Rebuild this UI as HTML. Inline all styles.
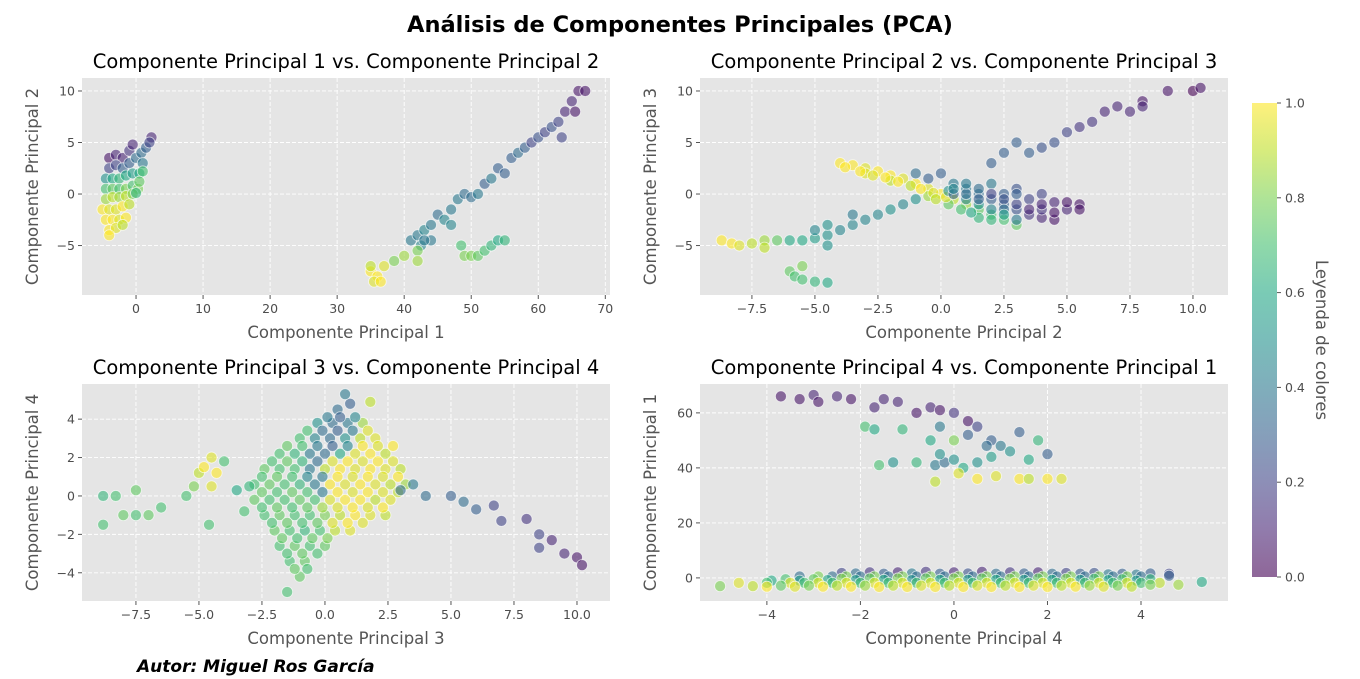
<!DOCTYPE html>
<html><head><meta charset="utf-8">
<style>
body{margin:0;background:#fff;}
svg{display:block;font-family:"DejaVu Sans","Liberation Sans",sans-serif;}
</style></head>
<body>
<svg id="fig" width="1360" height="679" viewBox="0 0 1360 679">
<text x="680" y="32" text-anchor="middle" font-size="22.5" font-weight="bold" fill="#000">Análisis de Componentes Principales (PCA)</text>
<text x="137" y="672" font-size="17" font-weight="bold" font-style="italic" fill="#000">Autor: Miguel Ros García</text>
</svg>
<script>
// ---- data: [x, y, colorValue] ----
const p1Points=[
[-4,3.5,0.05],[-3,3.8,0.1],[-2,3.5,0.1],[-1,4.2,0.15],[-0.5,4.8,0.1],[-4,2.5,0.2],[-3,2.8,0.2],[-2,2.5,0.3],[-1,3,0.3],[0,3.5,0.35],[0.8,4,0.35],[1.5,4.5,0.3],[2.3,5.5,0.1],[2,5,0.2],[1,3,0.4],
[-4.5,1.5,0.5],[-3.5,1.5,0.6],[-2.5,1.5,0.65],[-1.5,1.8,0.6],[-0.5,2,0.55],[0.5,2,0.6],[1,2.2,0.7],[-4.5,0.5,0.7],[-3.5,0.5,0.75],[-2.5,0.5,0.7],[-1.5,0.5,0.8],[-0.5,0.8,0.7],[0.3,0.5,0.8],[0.5,1.2,0.75],[-4.5,-0.5,0.85],[-3.5,-0.3,0.9],[-2.5,-0.3,0.85],[-1.5,-0.2,0.9],[-0.5,0,0.8],[0,0.1,0.65],
[-5,-1.5,1],[-4,-1.5,0.95],[-3,-1.5,0.95],[-2,-1.2,1],[-1,-1,0.9],[-4.5,-2.5,1],[-3.5,-2.5,1],[-2.5,-2.5,0.95],[-1.5,-2.3,1],[-4,-3.5,1],[-3,-3.3,0.95],[-4,-4,1],[-2,-3,0.9],
[35,-7.5,1],[36,-8,1],[35.5,-8.5,0.95],[37,-7,0.95],[35,-7,0.9],[36.5,-8.5,1],[38.5,-6.5,0.8],[40,-6,0.85],[41,-4.5,0.4],[42,-4,0.4],[42.5,-5,0.45],[43,-3.5,0.45],[42,-5.5,0.8],[44,-3,0.4],[45,-2,0.35],[46,-2.5,0.45],[47,-1.5,0.4],[48,-0.5,0.4],[49,0,0.35],[50,-0.3,0.35],[51,0,0.4],[52,1,0.3],[53,1.5,0.4],[54,2.5,0.3],[55,2,0.3],[56,3.5,0.3],[57,4,0.35],[58,4.5,0.3],[59,5,0.2],[60,5.5,0.25],[61,6,0.2],[62,6.5,0.25],[63,7,0.2],[64,8,0.1],[65,9,0.1],[65.5,8,0.05],[66,10,0.05],[67,10,0.05],[63.5,5.5,0.2],
[48.5,-5,0.7],[49,-6,0.8],[50,-6,0.8],[51,-6,0.75],[52,-5.5,0.7],[53,-5,0.65],[54,-4.5,0.6],[55,-4.5,0.65],[44,-4.5,0.4],[42,-6.5,0.85],[47,-3,0.45],[43,-4.5,0.4]];
const p2Points=[
[-4,3,1],[-3.5,2.8,1],[-3,2.5,0.95],[-2.5,2.2,1],[-2,1.8,1],[-1.5,1.5,0.95],[-1,1,1],[-0.5,0.5,0.95],[0,0,1],[-2,1.3,0.9],[-1.2,0.8,0.9],[-3,2,0.95],[0.5,-0.5,0.9],[1,-1,0.85],[1.5,-1.5,0.75],[2,-2,0.7],[2.5,-2.5,0.7],[3,-3,0.75],[0.8,-1.5,0.7],[1.5,-2.3,0.65],[0.3,-1,0.75],[-0.5,-0.2,0.85],
[-3.8,2.6,1],[-3.2,2.2,1],[-2.7,1.8,0.95],[-2.2,1.6,1],[-1.7,1.2,1],[-0.8,0.5,1],[-0.3,0.1,0.95],[-0.2,-0.5,0.9],[0.2,-0.3,0.95],
[-0.5,1.5,0.3],[0,2,0.3],[-1,2,0.35],[0.5,1,0.4],[1,0.5,0.4],[1.5,0,0.35],[2,-0.5,0.3],[2.5,-1,0.3],[3,-1.5,0.25],[3.5,-2,0.15],[4,-2.3,0.1],[4.5,-2.5,0.05],[5,-1.5,0.1],[5.5,-1,0.05],[4.5,-0.8,0.1],[3.5,-0.5,0.2],[2.5,0,0.3],[1.5,0.5,0.35],[3,0.5,0.25],[4,0,0.2],[2,1,0.4],[1,-0.5,0.45],[2,-1.5,0.45],[3,-2.5,0.4],[4,-1.5,0.15],[5,-0.8,0.05],[1.5,-1,0.5],[0.3,0.3,0.5],
[0.5,0,0.3],[1,0,0.35],[1.5,-0.5,0.3],[2,0,0.2],[2.5,-0.5,0.25],[3,-1,0.2],[3.5,-1.5,0.1],[4,-1,0.1],[3,0,0.3],[2.5,-1.5,0.35],[4.5,-1.8,0.05],[5.5,-1.5,0.05],[1,1,0.4],[0.5,0.5,0.45],[1.2,-1.8,0.6],[2,-2.5,0.65],[2.5,-2,0.55],
[2,3,0.3],[2.5,4,0.3],[3,5,0.3],[4,4.5,0.25],[4.5,5,0.25],[5,6,0.2],[5.5,6.5,0.15],[6,7,0.15],[6.5,8,0.1],[7.5,8,0.1],[8,9,0.05],[8,8.5,0.1],[9,10,0.05],[10,10,0],[10.3,10.3,0.05],[7,8.5,0.1],[3.5,4,0.3],
[-8.7,-4.5,1],[-8.3,-4.8,1],[-8,-5,0.95],[-7.5,-4.8,0.9],[-7,-4.5,0.85],[-7,-5.2,0.9],[-6.5,-4.5,0.75],[-6,-7.5,0.75],[-5.8,-8,0.7],[-5.5,-8.3,0.7],[-5,-8.5,0.65],[-4.5,-8.6,0.6],[-6,-4.5,0.6],[-5.5,-4.5,0.6],[-5,-4.3,0.55],[-4.5,-4,0.5],[-5,-3.5,0.45],[-4,-3.5,0.45],[-3.5,-3,0.45],[-3,-2.5,0.45],[-2.5,-2,0.45],[-2,-1.5,0.5],[-1.5,-1,0.45],[-1,-0.5,0.5],[-4.5,-5,0.5],[-5.5,-7,0.8],[-4.5,-3,0.5],[-3.5,-2,0.4]];
const p3Points=[
[0.5,4.5,0.35],[1,4.8,0.3],[0.8,5.3,0.4],[-0.3,3.8,0.5],[0.3,3.8,0.35],[0.9,3.8,0.4],[1.5,3.8,0.85],[1.8,4.9,0.9],
[-1,3,0.7],[-0.4,3,0.45],[0.2,3,0.35],[0.8,3,0.5],[1.4,3,0.9],[2,3,0.95],
[-1.8,2.2,0.7],[-1.2,2.2,0.65],[-0.6,2.2,0.4],[0,2.2,0.35],[0.6,2.2,0.6],[1.2,2.2,0.95],[1.8,2.2,1],[2.4,2.2,0.9],
[-2.4,1.4,0.75],[-1.8,1.4,0.7],[-1.2,1.4,0.7],[-0.6,1.4,0.4],[0,1.4,0.9],[0.6,1.4,1],[1.2,1.4,0.95],[1.8,1.4,1],[2.4,1.4,0.95],[3,1.4,0.9],
[-2.8,0.6,0.7],[-2.2,0.6,0.75],[-1.6,0.6,0.7],[-1,0.6,0.65],[-0.4,0.6,0.4],[0.2,0.6,1],[0.8,0.6,0.95],[1.4,0.6,1],[2,0.6,0.95],[2.6,0.6,0.9],[3.2,0.6,0.85],
[-2.8,-0.2,0.75],[-2.2,-0.2,0.7],[-1.6,-0.2,0.7],[-1,-0.2,0.75],[-0.4,-0.2,0.7],[0.2,-0.2,0.95],[0.8,-0.2,1],[1.4,-0.2,1],[2,-0.2,0.9],[2.6,-0.2,0.95],
[-2.4,-1,0.7],[-1.8,-1,0.75],[-1.2,-1,0.7],[-0.6,-1,0.7],[0,-1,0.8],[0.6,-1,0.9],[1.2,-1,1],[1.8,-1,0.95],[2.4,-1,0.9],
[-2,-1.8,0.75],[-1.4,-1.8,0.7],[-0.8,-1.8,0.65],[-0.2,-1.8,0.7],[0.4,-1.8,0.9],[1,-1.8,0.95],
[-1.8,-2.6,0.7],[-1.2,-2.6,0.75],[-0.6,-2.6,0.7],[0,-2.6,0.75],[-1.4,-3.4,0.7],[-0.8,-3.4,0.75],[-1,-4.2,0.75],[-1.5,-5,0.7],
[0.1,4.1,0.4],[0.6,4.1,0.3],[1.2,4.1,0.45],
[-0.7,3.4,0.7],[-0.1,3.4,0.35],[0.5,3.4,0.3],[1.1,3.4,0.4],[1.7,3.4,0.95],
[-1.5,2.6,0.75],[-0.9,2.6,0.7],[-0.3,2.6,0.4],[0.3,2.6,0.3],[0.9,2.6,0.45],[1.5,2.6,1],[2.1,2.6,0.95],[2.7,2.6,1],
[-2.1,1.8,0.7],[-1.5,1.8,0.75],[-0.9,1.8,0.65],[-0.3,1.8,0.35],[0.3,1.8,0.95],[0.9,1.8,1],[1.5,1.8,0.95],[2.1,1.8,1],[2.7,1.8,0.95],
[-2.5,1,0.7],[-1.9,1,0.75],[-1.3,1,0.7],[-0.7,1,0.45],[-0.1,1,0.4],[0.5,1,1],[1.1,1,0.95],[1.7,1,1],[2.3,1,0.95],[2.9,1,1],
[-2.5,0.2,0.75],[-1.9,0.2,0.7],[-1.3,0.2,0.75],[-0.7,0.2,0.7],[-0.1,0.2,0.4],[0.5,0.2,1],[1.1,0.2,0.95],[1.7,0.2,1],[2.3,0.2,0.95],[2.9,0.2,0.9],
[-2.5,-0.6,0.7],[-1.9,-0.6,0.75],[-1.3,-0.6,0.7],[-0.7,-0.6,0.75],[-0.1,-0.6,0.85],[0.5,-0.6,0.95],[1.1,-0.6,1],[1.7,-0.6,0.95],[2.3,-0.6,1],
[-2.1,-1.4,0.7],[-1.5,-1.4,0.75],[-0.9,-1.4,0.7],[-0.3,-1.4,0.75],[0.3,-1.4,0.95],[0.9,-1.4,1],[1.5,-1.4,0.95],
[-1.7,-2.2,0.75],[-1.1,-2.2,0.7],[-0.5,-2.2,0.75],[0.1,-2.2,0.8],
[-1.5,-3,0.7],[-0.9,-3,0.75],[-0.3,-3,0.7],[-1.2,-3.8,0.75],[-0.7,-3.8,0.7],
[3,0.3,0.35],[4,0,0.35],[5,0,0.3],[5.5,-0.3,0.35],[6,-0.7,0.3],[6.7,-0.5,0.2],[7,-1.3,0.2],[8,-1.2,0.15],[8.5,-2,0.2],[8.5,-2.7,0.2],[9,-2.3,0.1],[9.5,-3,0.1],[10,-3.2,0.05],[10.2,-3.6,0.05],[3.5,0.6,0.4],
[-8.8,-1.5,0.7],[-8.8,0,0.65],[-8.3,0,0.7],[-7.5,0.3,0.75],[-7.5,-1,0.7],[-7,-1,0.75],[-6.5,-0.6,0.7],[-8,-1,0.75],
[-5.5,0,0.7],[-5,1.2,0.9],[-4.8,1.5,1],[-4.5,0.5,0.95],[-4.5,2,0.95],[-4.3,1.2,1],[-5.2,0.5,0.8],[-4,1.8,0.7],[-3.5,0.3,0.6],[-3,0.5,0.65],[-3.2,-0.8,0.7],[-4.6,-1.5,0.7]];
const p4Points=[
[-2.4,1.8,0.2],[-2.1,1.6,0.35],[-1.8,2,0.15],[-1.5,1.5,0.3],[-1.2,2,0.1],[-0.9,1.6,0.4],[-0.6,2.2,0.15],[-0.3,1.5,0.3],[0,2,0.1],[0.3,1.6,0.25],[0.6,2.2,0.1],[0.9,1.5,0.35],[1.2,2,0.15],[1.5,1.6,0.3],[1.8,2,0.1],[2.1,1.5,0.35],[2.4,1.8,0.2],[2.7,1.5,0.3],[3,1.8,0.25],[3.3,1.3,0.4],[3.6,1.5,0.3],[3.9,1.2,0.4],[4.2,1.6,0.3],[4.6,1.5,0.2],
[-3.3,0.5,0.35],[-2.9,0.5,0.8],[-2.6,0.5,0.35],[-2.3,0.5,0.8],[-2,0.5,0.35],[-1.7,0.5,0.8],[-1.4,0.5,0.35],[-1.1,0.5,0.8],[-0.8,0.5,0.35],[-0.5,0.5,0.8],[-0.2,0.5,0.35],[0.1,0.5,0.8],[0.4,0.5,0.35],[0.7,0.5,0.8],[1,0.5,0.35],[1.3,0.5,0.8],[1.6,0.5,0.35],[1.9,0.5,0.8],[2.2,0.5,0.35],[2.5,0.5,0.8],[2.8,0.5,0.35],[3.1,0.5,0.8],[3.4,0.5,0.35],[3.7,0.5,0.8],[4,0.5,0.35],
[-3.9,-1,0.6],[-3.6,-0.5,0.7],[-3.3,-1,0.55],[-3,-0.5,0.75],[-2.7,-0.8,0.6],[-2.4,-0.3,0.8],[-2.1,-0.8,0.55],[-1.8,-0.2,0.75],[-1.5,-0.7,0.6],[-1.2,-0.2,0.8],[-0.9,-0.8,0.5],[-0.6,-0.2,0.75],[-0.3,-0.7,0.6],[0,-0.2,0.8],[0.3,-0.7,0.55],[0.6,-0.2,0.75],[0.9,-0.7,0.6],[1.2,-0.3,0.8],[1.5,-0.7,0.55],[1.8,-0.2,0.75],[2.1,-0.7,0.6],[2.4,-0.3,0.8],[2.7,-0.7,0.55],[3,-0.3,0.7],[3.3,-0.8,0.6],[3.6,-0.5,0.7],[3.9,-1,0.55],[4.2,-0.5,0.65],
[-4.6,-1.8,0.95],[-4,-1.8,0.7],[-3.5,-1.8,0.95],[-3.2,-1.8,0.7],[-2.9,-1.8,0.95],[-2.6,-1.8,0.7],[-2.3,-1.8,0.95],[-2,-1.8,0.7],[-1.7,-1.8,0.95],[-1.4,-1.8,0.7],[-1.1,-1.8,0.95],[-0.8,-1.8,0.7],[-0.5,-1.8,0.95],[-0.2,-1.8,0.7],[0.1,-1.8,0.95],[0.4,-1.8,0.7],[0.7,-1.8,0.95],[1,-1.8,0.7],[1.3,-1.8,0.95],[1.6,-1.8,0.7],[1.9,-1.8,0.95],[2.2,-1.8,0.7],[2.5,-1.8,0.95],[2.8,-1.8,0.7],[3.1,-1.8,0.95],[3.4,-1.8,0.7],[3.7,-1.8,0.95],[4,-1.8,0.7],[4.4,-1.8,0.9],
[-5,-3,0.8],[-4.3,-3,0.9],[-4,-3.2,1],[-3.7,-2.8,0.75],[-3.4,-3.2,0.95],[-3.1,-2.8,0.8],[-2.8,-3.2,1],[-2.5,-2.8,0.9],[-2.2,-3.2,1],[-1.9,-2.8,0.85],[-1.6,-3.3,1],[-1.3,-2.8,0.9],[-1,-3.3,1],[-0.7,-2.8,0.95],[-0.4,-3.3,1],[-0.1,-2.8,0.9],[0.2,-3.3,1],[0.5,-2.8,0.95],[0.8,-3.3,1],[1.1,-2.8,0.9],[1.4,-3.3,1],[1.7,-2.8,0.95],[2,-3.3,1],[2.3,-2.8,0.9],[2.6,-3.2,1],[2.9,-2.8,0.85],[3.2,-3.2,0.95],[3.5,-2.8,0.8],[3.8,-3.2,0.9],[4.2,-2.5,0.8],[4.8,-2.5,0.85],[5.3,-1.5,0.6],[4.6,0.8,0.3],
[-3.7,66,0.05],[-3.3,65,0.05],[-3,66.5,0.1],[-2.9,64,0.05],[-2.5,66,0.1],[-2.2,65,0.05],[-1.5,65,0.1],[-1.2,64,0.1],[-0.8,60,0.05],[-0.5,62,0.1],[-0.3,61,0.05],[0.3,57,0.05],[0,60,0.15],[-1.7,62,0.1],
[-1.9,55,0.7],[-1.7,54,0.6],[-1.1,54,0.65],[-1.6,41,0.7],[-1.3,42,0.5],[-0.8,42,0.65],[-0.4,41,0.4],[-0.2,42,0.35],[0,43,0.5],[-0.3,45,0.5],[-0.5,50,0.6],[0,50,0.8],[0.3,52,0.3],[0.5,55,0.2],[0.8,50,0.3],[1,48,0.4],[0.8,44,0.55],[1.2,46,0.5],[1.4,53,0.3],[1.8,50,0.65],[2,45,0.3],[1.6,43,0.6],[0.5,42,0.5],
[-0.4,35,0.9],[0.5,36,1],[0.9,37,0.95],[1.4,36,1],[1.6,36,0.9],[2,36,1],[2.3,36,0.95],[0.2,40,0.6],[0.1,38,0.95],[-0.3,55,0.4],[0.7,48,0.35]];
// ticks
const p1XTicks=[0,10,20,30,40,50,60,70], p1YTicks=[-5,0,5,10];
const p2XTicks=[-7.5,-5,-2.5,0,2.5,5,7.5,10], p2YTicks=[-5,0,5,10];
const p3XTicks=[-7.5,-5,-2.5,0,2.5,5,7.5,10], p3YTicks=[-4,-2,0,2,4];
const p4XTicks=[-4,-2,0,2,4], p4YTicks=[0,20,40,60];
const cbTicks=[0,0.2,0.4,0.6,0.8,1.0];

const NS="http://www.w3.org/2000/svg";
const svg=document.getElementById('fig');
function el(tag,attrs,parent){const e=document.createElementNS(NS,tag);for(const k in attrs)e.setAttribute(k,attrs[k]);(parent||svg).appendChild(e);return e;}
const VIR=[[68,1,84],[72,36,117],[65,68,135],[53,95,141],[42,120,142],[33,145,140],[34,168,132],[68,191,112],[122,209,81],[189,223,38],[253,231,37]];
function viridis(t){t=Math.max(0,Math.min(1,t));const s=t*10,i=Math.min(9,Math.floor(s)),f=s-i;const a=VIR[i],b=VIR[i+1];return 'rgb('+a.map((v,k)=>Math.round(v+(b[k]-v)*f)).join(',')+')';}
function fmt(v,dec){const s=dec?v.toFixed(1):String(v);return s.replace('-','\u2212');}

const panels=[
{id:'p1',x0:82,x1:610,y0:78,y1:295,xmin:-8.06,xmax:70.7,ymin:-9.8,ymax:11.26,pts:p1Points,xt:p1XTicks,yt:p1YTicks,xd:false,yd:false,title:'Componente Principal 1 vs. Componente Principal 2',xl:'Componente Principal 1',yl:'Componente Principal 2'},
{id:'p2',x0:700,x1:1228,y0:78,y1:295,xmin:-9.56,xmax:11.39,ymin:-9.8,ymax:11.26,pts:p2Points,xt:p2XTicks,yt:p2YTicks,xd:true,yd:false,title:'Componente Principal 2 vs. Componente Principal 3',xl:'Componente Principal 2',yl:'Componente Principal 3'},
{id:'p3',x0:82,x1:610,y0:384,y1:601,xmin:-9.64,xmax:11.31,ymin:-5.47,ymax:5.83,pts:p3Points,xt:p3XTicks,yt:p3YTicks,xd:true,yd:false,title:'Componente Principal 3 vs. Componente Principal 4',xl:'Componente Principal 3',yl:'Componente Principal 4'},
{id:'p4',x0:700,x1:1228,y0:384,y1:601,xmin:-5.43,xmax:5.86,ymin:-8.4,ymax:70.5,pts:p4Points,xt:p4XTicks,yt:p4YTicks,xd:false,yd:false,title:'Componente Principal 4 vs. Componente Principal 1',xl:'Componente Principal 4',yl:'Componente Principal 1'}];

panels.forEach(p=>{
  const sx=v=>p.x0+(v-p.xmin)/(p.xmax-p.xmin)*(p.x1-p.x0);
  const sy=v=>p.y1-(v-p.ymin)/(p.ymax-p.ymin)*(p.y1-p.y0);
  const g=el('g',{});
  
  
  const bg=el('rect',{x:p.x0,y:p.y0,width:p.x1-p.x0,height:p.y1-p.y0,fill:'#e5e5e5'},g);
  
  
  p.xt.forEach(t=>{const x=sx(t);
    const gl=el('line',{x1:x,x2:x,y1:p.y0,y2:p.y1,stroke:'#fff','stroke-width':0.9,'stroke-dasharray':'4,2'},g);
    
    el('line',{x1:x,x2:x,y1:p.y1,y2:p.y1+4,stroke:'#555','stroke-width':1},g);
    const tl=el('text',{x:x,y:p.y1+18,'text-anchor':'middle','font-size':12.5,fill:'#4d4d4d'},g);tl.textContent=fmt(t,p.xd);
    });
  p.yt.forEach(t=>{const y=sy(t);
    const gl=el('line',{x1:p.x0,x2:p.x1,y1:y,y2:y,stroke:'#fff','stroke-width':0.9,'stroke-dasharray':'4,2'},g);
    
    el('line',{x1:p.x0-4,x2:p.x0,y1:y,y2:y,stroke:'#555','stroke-width':1},g);
    const tl=el('text',{x:p.x0-7,y:y+4.5,'text-anchor':'end','font-size':12.5,fill:'#4d4d4d'},g);tl.textContent=fmt(t,p.yd);
    });
  p.pts.forEach(d=>{
    const c=el('circle',{cx:sx(d[0]),cy:sy(d[1]),r:5.5,fill:viridis(d[2]),'fill-opacity':0.6,stroke:'#fff','stroke-opacity':0.7,'stroke-width':0.8},g);
    
    
  });
  const tt=el('text',{x:(p.x0+p.x1)/2,y:p.y0-10,'text-anchor':'middle','font-size':19.5,fill:'#000'},g);tt.textContent=p.title;
  
  const xl=el('text',{x:(p.x0+p.x1)/2,y:p.y1+43,'text-anchor':'middle','font-size':16.5,fill:'#555'},g);xl.textContent=p.xl;
  
  const yc=(p.y0+p.y1)/2, yx=p.x0-44;
  const yl=el('text',{x:yx,y:yc,'text-anchor':'middle','font-size':16.5,fill:'#555',transform:'rotate(-90 '+yx+' '+yc+')'},g);yl.textContent=p.yl;
  
});

// colorbar
const cb={x:1252,w:25,y0:103,y1:577};
const defs=el('defs',{});
const grad=el('linearGradient',{id:'vg',x1:0,y1:1,x2:0,y2:0},defs);
for(let i=0;i<=10;i++){el('stop',{offset:i/10,'stop-color':viridis(i/10),'stop-opacity':0.6},grad);}
const cbr=el('rect',{x:cb.x,y:cb.y0,width:cb.w,height:cb.y1-cb.y0,fill:'url(#vg)'});


cbTicks.forEach(t=>{const y=cb.y1-t*(cb.y1-cb.y0);
  el('line',{x1:cb.x+cb.w,x2:cb.x+cb.w+4,y1:y,y2:y,stroke:'#555'});
  const tl=el('text',{x:cb.x+cb.w+8,y:y+4.5,'font-size':12.5,fill:'#4d4d4d'});tl.textContent=t.toFixed(1);
  });
const cl=el('text',{x:1316,y:340,'text-anchor':'middle','font-size':16.5,fill:'#555',transform:'rotate(90 1316 340)'});
cl.textContent='Leyenda de colores';


</script>
</body></html>
